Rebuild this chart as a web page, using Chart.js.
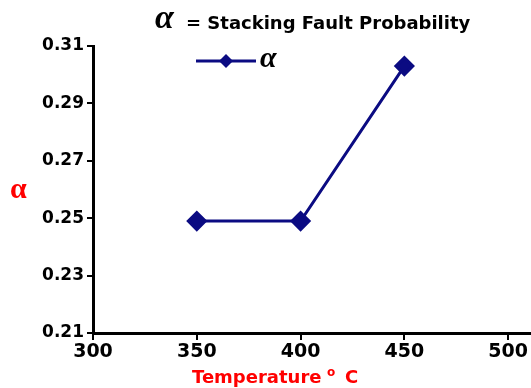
<!DOCTYPE html>
<html>
<head>
<meta charset="utf-8">
<script src="https://cdn.jsdelivr.net/npm/chart.js@4"></script>
<style>
  html, body { margin: 0; padding: 0; background: #fff; }
  #wrap { width: 531px; height: 388px; }
</style>
</head>
<body>
<div id="wrap"><canvas id="chart" width="531" height="388"></canvas></div>
<script>
const temperatures = [350, 400, 450];
const alphaValues = [0.249, 0.249, 0.303];
const xTicks = [300, 350, 400, 450, 500];
const yTicks = [0.21, 0.23, 0.25, 0.27, 0.29, 0.31];

const lineColor = '#0b0b82';
const tickFont = { family: 'DejaVu Sans', weight: 'bold', size: 17 };

// title, legend and axis titles are drawn by hand so the alpha glyph can use its own font
const labelsPlugin = {
    id: 'labels',
    afterDraw(chart) {
        const ctx = chart.ctx;
        ctx.save();
        ctx.textBaseline = 'alphabetic';
        ctx.textAlign = 'left';

        // title
        ctx.fillStyle = '#000';
        ctx.font = 'italic bold 34px "Liberation Serif"';
        ctx.fillText('α', 155, 28);
        ctx.font = 'bold 18px "DejaVu Sans"';
        ctx.fillText('= Stacking Fault Probability', 186, 29);

        // legend
        const ly = 61;
        ctx.strokeStyle = lineColor;
        ctx.lineWidth = 3;
        ctx.beginPath();
        ctx.moveTo(196, ly);
        ctx.lineTo(256, ly);
        ctx.stroke();
        ctx.fillStyle = lineColor;
        ctx.beginPath();
        ctx.moveTo(226, ly - 7);
        ctx.lineTo(233, ly);
        ctx.lineTo(226, ly + 7);
        ctx.lineTo(219, ly);
        ctx.closePath();
        ctx.fill();
        ctx.fillStyle = '#000';
        ctx.font = 'italic bold 30px "Liberation Serif"';
        ctx.fillText('α', 260, 67);

        // y title
        ctx.fillStyle = '#f00';
        ctx.font = 'bold 30px "Liberation Serif"';
        ctx.fillText('α', 10, 198);

        // x title
        ctx.font = 'bold 18px "DejaVu Sans"';
        ctx.fillText('Temperature', 192, 383);
        ctx.font = 'bold 12px "DejaVu Sans"';
        ctx.fillText('o', 327, 376);
        ctx.font = 'bold 18px "DejaVu Sans"';
        ctx.fillText('C', 345, 383);
        ctx.restore();
    }
};

new Chart(document.getElementById('chart'), {
    type: 'line',
    data: {
        datasets: [{
            label: 'α',
            data: temperatures.map((t, i) => ({ x: t, y: alphaValues[i] })),
            borderColor: lineColor,
            backgroundColor: lineColor,
            borderWidth: 3,
            pointStyle: 'rectRot',
            pointRadius: 8.5,
            pointHoverRadius: 8.5,
            tension: 0,
        }],
    },
    options: {
        responsive: false,
        animation: false,
        layout: { autoPadding: false, padding: { top: 46, right: 0, left: 0, bottom: 0 } },
        plugins: { legend: { display: false }, tooltip: { enabled: false } },
        scales: {
            x: {
                type: 'linear',
                min: 300,
                max: 511,
                afterFit: (s) => { s.height = 55; s.paddingRight = 0; s.paddingLeft = 0; },
                afterBuildTicks: (s) => { s.ticks = xTicks.map(v => ({ value: v })); },
                border: { color: '#000', width: 3 },
                grid: { drawOnChartArea: false, color: '#000', tickLength: 7, lineWidth: 2 },
                ticks: { color: '#000', font: { ...tickFont, size: 19 }, padding: 1, maxRotation: 0 },
            },
            y: {
                min: 0.21,
                max: 0.31,
                afterFit: (s) => { s.width = 93; s.paddingTop = 0; s.paddingBottom = 0; },
                afterBuildTicks: (s) => { s.ticks = yTicks.map(v => ({ value: v })); },
                border: { color: '#000', width: 3 },
                grid: { drawOnChartArea: false, color: '#000', tickLength: 6, lineWidth: 2 },
                ticks: { color: '#000', font: tickFont, padding: 3, callback: (v) => v.toFixed(2) },
            },
        },
    },
    plugins: [labelsPlugin],
});
</script>
</body>
</html>
